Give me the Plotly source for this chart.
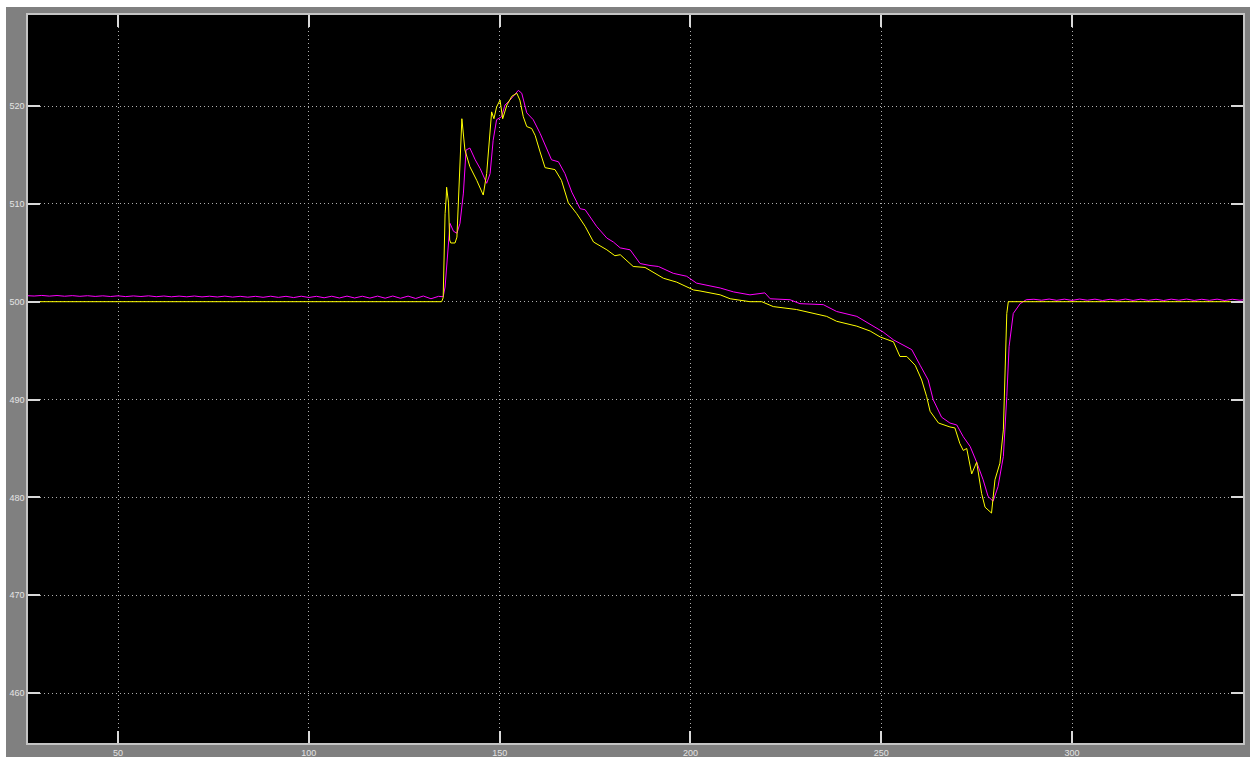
import plotly.graph_objects as go

# Reference signal (yellow) -- time and value
ref_t = [26.0, 134.8, 135.2, 135.7, 136.0, 136.1, 136.6, 136.9, 137.2, 138.3, 138.8,
         139.4, 140.1, 140.9, 142.2, 144.0, 145.7, 146.6, 147.5, 147.9, 148.5, 149.2,
         150.1, 150.8, 151.9, 153.2, 154.5, 155.3, 156.2, 157.1, 158.4, 159.3, 160.6,
         161.9, 164.5, 166.2, 168.0, 170.2, 172.4, 174.6, 178.1, 180.2, 181.6, 185.0,
         188.1, 192.9, 196.4, 200.8, 202.5, 207.8, 210.4, 215.6, 218.7, 221.7, 227.8,
         232.2, 235.7, 238.3, 243.6, 247.1, 249.7, 253.2, 254.9, 256.7, 258.9, 260.6,
         261.9, 262.8, 265.0, 268.0, 269.3, 270.6, 271.5, 272.4, 273.7, 275.0, 276.3,
         277.2, 278.9, 279.8, 281.1, 282.0, 282.4, 282.9, 283.3, 345.0]
ref_v = [500.0, 500.0, 500.4, 509.0, 510.7, 511.7, 510.1, 506.3, 506.0, 506.0, 506.6,
         512.4, 518.7, 515.5, 513.8, 512.4, 510.9, 513.1, 517.9, 519.4, 518.7, 519.9,
         520.6, 518.7, 520.1, 521.0, 521.3, 520.6, 518.9, 517.9, 517.7, 517.0, 515.3,
         513.7, 513.5, 512.4, 510.1, 509.0, 507.7, 506.1, 505.3, 504.7, 504.8, 503.6,
         503.5, 502.4, 502.0, 501.2, 501.1, 500.7, 500.3, 500.0, 500.0, 499.5, 499.2,
         498.8, 498.5, 498.0, 497.5, 497.0, 496.4, 495.9, 494.4, 494.4, 493.5, 492.0,
         490.3, 488.8, 487.6, 487.2, 487.1, 485.5, 484.8, 485.0, 482.4, 483.6, 480.4,
         479.0, 478.4, 481.8, 483.5, 486.9, 492.0, 498.8, 500.0, 500.0]

# Measured signal (magenta) -- time and value
meas_t = [26, 28, 30, 32, 34, 36, 38, 40, 42, 44, 46, 48, 50, 52, 54, 56, 58, 60, 62,
          64, 66, 68, 70, 72, 74, 76, 78, 80, 82, 84, 86, 88, 90, 92, 94, 96, 98, 100,
          102, 104, 106, 108, 110, 112, 114, 116, 118, 120, 122, 124, 126, 128, 130,
          132, 134,
          135.2, 135.7, 136.1, 136.6, 137.0, 137.9, 138.8, 139.6, 140.5, 141.2, 142.2,
          143.6, 144.9, 146.6, 147.5, 148.3, 149.2, 150.5, 151.4, 152.7, 154.9, 155.8,
          157.1, 158.8, 160.6, 163.6, 165.4, 167.1, 168.9, 171.1, 172.4, 175.4, 178.1,
          179.8, 181.6, 184.2, 186.8, 189.4, 191.6, 195.5, 199.0, 201.6, 207.8, 211.3,
          215.6, 219.5, 220.9, 226.1, 228.7, 234.8, 238.3, 243.6, 247.1, 250.5, 253.2,
          258.0, 260.2, 262.3, 263.6, 265.8, 268.0, 269.8, 271.5, 273.3, 275.0, 276.7,
          278.0, 279.3, 280.6, 282.0, 282.9, 283.5, 284.6, 286.4, 288.0,
          290, 292, 294, 296, 298, 300, 302, 304, 306, 308, 310, 312, 314, 316, 318,
          320, 322, 324, 326, 328, 330, 332, 334, 336, 338, 340, 342, 344, 345]
meas_v = [500.62, 500.58, 500.64, 500.57, 500.63, 500.56, 500.62, 500.55, 500.61,
          500.54, 500.60, 500.53, 500.60, 500.52, 500.59, 500.53, 500.60, 500.51,
          500.58, 500.50, 500.57, 500.50, 500.58, 500.49, 500.56, 500.48, 500.57,
          500.47, 500.55, 500.46, 500.55, 500.45, 500.56, 500.44, 500.55, 500.42,
          500.56, 500.43, 500.55, 500.40, 500.56, 500.38, 500.57, 500.38, 500.56,
          500.37, 500.57, 500.36, 500.58, 500.35, 500.57, 500.33, 500.58, 500.30,
          500.55,
          500.5, 501.5, 503.6, 506.3, 508.0, 507.2, 507.0, 508.0, 511.1, 515.5, 515.7,
          514.5, 513.6, 512.1, 513.1, 516.5, 518.6, 518.9, 520.1, 520.6, 521.6, 521.3,
          519.3, 518.6, 517.2, 514.5, 514.3, 513.1, 511.2, 509.5, 509.4, 507.7, 506.5,
          506.1, 505.5, 505.3, 503.9, 503.7, 503.6, 502.9, 502.6, 501.9, 501.4, 501.0,
          500.7, 500.9, 500.3, 500.2, 499.8, 499.7, 499.0, 498.5, 497.7, 496.9, 496.1,
          495.1, 493.5, 492.0, 490.0, 488.2, 487.6, 487.4, 486.2, 485.2, 483.6, 481.8,
          480.1, 479.6, 481.1, 484.2, 490.3, 495.4, 498.8, 499.8, 500.2,
          500.25, 500.15, 500.27, 500.14, 500.26, 500.13, 500.27, 500.15, 500.26,
          500.12, 500.25, 500.14, 500.27, 500.13, 500.26, 500.14, 500.25, 500.12,
          500.26, 500.15, 500.27, 500.13, 500.25, 500.14, 500.26, 500.12, 500.25,
          500.15, 500.2]

x_ticks = [50, 100, 150, 200, 250, 300]
y_ticks = [460, 470, 480, 490, 500, 510, 520]

W, H = 1250, 757
ML, MR, MT, MB = 28, 7, 15, 14
PW, PH = W - ML - MR, H - MT - MB

fig = go.Figure()
fig.add_trace(go.Scatter(x=meas_t, y=meas_v, mode="lines",
                         line=dict(color="#ff00ff", width=1), showlegend=False))
fig.add_trace(go.Scatter(x=ref_t, y=ref_v, mode="lines",
                         line=dict(color="#ffff00", width=1), showlegend=False))

axis_common = dict(
    automargin=False,
    showline=True, linecolor="#c4c4c4", linewidth=1.5, mirror="allticks",
    ticks="inside", ticklen=12, tickwidth=1.5, tickcolor="#d8d8d8",
    showgrid=True, gridcolor="#b0b0b0", gridwidth=1, griddash="1px,3px",
    zeroline=False,
    tickfont=dict(family="Liberation Sans, Arial, sans-serif", size=9, color="#e4e4e4"),
)

fig.update_xaxes(range=[26.4, 344.8], tickvals=x_ticks, **axis_common)
fig.update_yaxes(range=[454.9, 529.3], tickvals=y_ticks, **axis_common)

# thin white strips along the top and left edges of the window
fig.add_shape(type="rect", xref="paper", yref="paper", layer="above",
              x0=-ML / PW - 0.01, x1=(6 - ML) / PW, y0=-MB / PH - 0.01, y1=1 + MT / PH + 0.01,
              fillcolor="white", line_width=0)
fig.add_shape(type="rect", xref="paper", yref="paper", layer="above",
              x0=-ML / PW - 0.01, x1=1 + MR / PW + 0.01, y0=1 + (MT - 7) / PH, y1=1 + MT / PH + 0.01,
              fillcolor="white", line_width=0)

fig.update_layout(
    width=W, height=H,
    margin=dict(l=ML, r=MR, t=MT, b=MB, autoexpand=False),
    paper_bgcolor="#808080",
    plot_bgcolor="#000000",
    showlegend=False,
)

fig.write_html("out.html")
